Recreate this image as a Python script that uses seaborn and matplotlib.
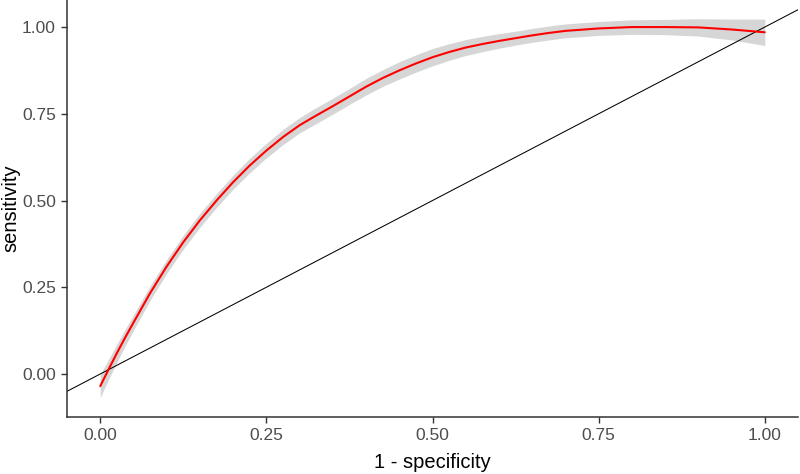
import numpy as np
import pandas as pd
import matplotlib
matplotlib.use("Agg")
import matplotlib.pyplot as plt
import seaborn as sns

# ---- data ----
fpr = [0.00, 0.0125, 0.025, 0.0375, 0.05, 0.075, 0.10, 0.125, 0.15, 0.175, 0.20,
       0.225, 0.25, 0.275, 0.30, 0.325, 0.35, 0.375, 0.40, 0.425, 0.45,
       0.475, 0.50, 0.525, 0.55, 0.575, 0.60, 0.625, 0.65, 0.675, 0.70, 0.75, 0.80,
       0.85, 0.90, 0.95, 1.00]
sens = [-0.035, 0.013, 0.060, 0.105, 0.148, 0.233, 0.310, 0.380, 0.443, 0.500, 0.553,
        0.601, 0.644, 0.683, 0.717, 0.745, 0.772, 0.800, 0.828, 0.853, 0.875,
        0.895, 0.913, 0.928, 0.941, 0.951, 0.960, 0.968, 0.976, 0.983, 0.989, 0.996, 1.0,
        1.0, 0.999, 0.993, 0.985]
ci_low = [-0.068, -0.016, 0.034, 0.081, 0.126, 0.212, 0.290, 0.360, 0.423, 0.480, 0.533,
          0.580, 0.623, 0.661, 0.695, 0.722, 0.749, 0.777, 0.804, 0.829, 0.850,
          0.870, 0.888, 0.904, 0.918, 0.929, 0.939, 0.948, 0.956, 0.963, 0.969, 0.976, 0.979,
          0.978, 0.974, 0.963, 0.947]
ci_high = [-0.002, 0.042, 0.086, 0.129, 0.170, 0.254, 0.330, 0.400, 0.463, 0.520, 0.573,
           0.622, 0.665, 0.705, 0.739, 0.768, 0.795, 0.823, 0.852, 0.877, 0.900,
           0.920, 0.938, 0.952, 0.964, 0.973, 0.981, 0.988, 0.996, 1.003, 1.009, 1.016, 1.021,
           1.022, 1.024, 1.023, 1.023]
x_ticks = [0.00, 0.25, 0.50, 0.75, 1.00]
y_ticks = [0.00, 0.25, 0.50, 0.75, 1.00]
tick_labels = ["0.00", "0.25", "0.50", "0.75", "1.00"]

df = pd.DataFrame({"fpr": fpr, "sens": sens, "lo": ci_low, "hi": ci_high})

sns.set_theme(style="white")
plt.rcParams["font.family"] = ["Liberation Sans", "DejaVu Sans"]

fig = plt.figure(figsize=(8.0, 4.74), dpi=100)
ax_w = (798 - 67) / 800
ax = fig.add_axes([67 / 800, 57 / 474, ax_w, 417 / 474])

ax.fill_between(df["fpr"], df["lo"], df["hi"], color="#d6d6d6", linewidth=0, zorder=1)
sns.lineplot(data=df, x="fpr", y="sens", color="#ff0000", linewidth=1.5,
             ax=ax, zorder=3, estimator=None, sort=True)
for ln in ax.get_lines():
    ln.set_solid_joinstyle("round")
ax.axline((0, 0), slope=1, color="black", linewidth=0.75, zorder=2)

ax.set_xlim(-0.05, 1.05)
ax.set_ylim(-0.124, 1.078)
ax.set_xticks(x_ticks)
ax.set_xticklabels(tick_labels)
ax.set_yticks(y_ticks)
ax.set_yticklabels(tick_labels)

sns.despine(ax=ax)
for s in ["left", "bottom"]:
    ax.spines[s].set_color("#333333")
    ax.spines[s].set_linewidth(1.1)

ax.tick_params(axis="both", which="major", direction="out", length=4, width=1,
               color="#333333", labelcolor="#4d4d4d", labelsize=12.5, pad=4,
               left=True, bottom=True)
ax.set_xlabel("1 - specificity", fontsize=14.5, color="black", labelpad=7)
ax.set_ylabel("sensitivity", fontsize=14.5, color="black")
ax.yaxis.set_label_coords((20 - 67) / 800 / ax_w, 0.5)
ax.grid(False)

fig.savefig("out.png", dpi=100)
